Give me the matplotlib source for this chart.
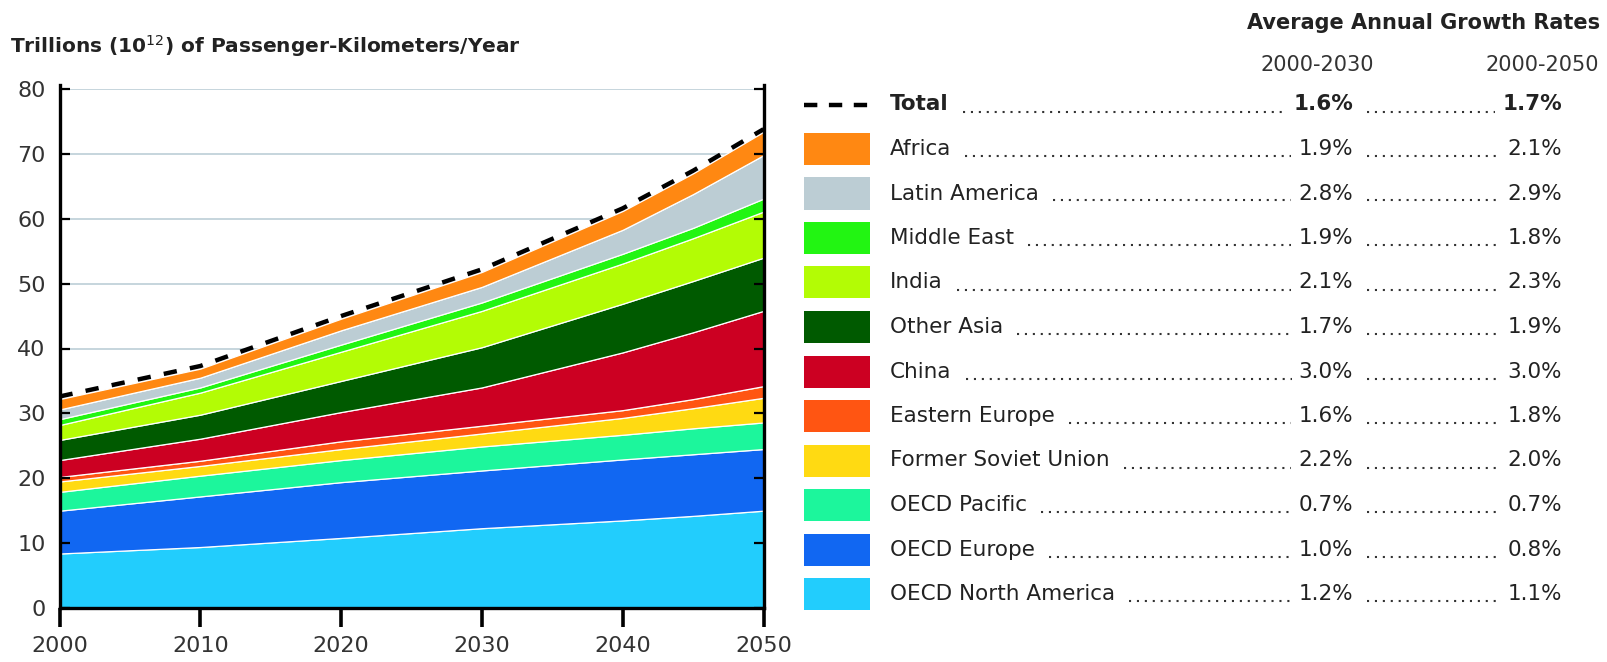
import matplotlib
matplotlib.use("Agg")
import matplotlib.pyplot as plt
from matplotlib.patches import Rectangle
from matplotlib.lines import Line2D
import numpy as np

# -------- Data --------
years = [2000, 2010, 2020, 2030, 2040, 2045, 2050]

# layer thickness, trillions of passenger-km/year (stack order: bottom -> top)
oecd_north_america = [8.4, 9.4, 10.8, 12.3, 13.5, 14.2, 15.0]
oecd_europe = [6.6, 7.8, 8.6, 8.9, 9.4, 9.5, 9.5]
oecd_pacific = [2.9, 3.2, 3.4, 3.7, 3.8, 4.0, 4.1]
former_soviet_union = [1.6, 1.5, 1.7, 2.0, 2.6, 3.1, 3.8]
eastern_europe = [0.7, 0.8, 1.2, 1.2, 1.2, 1.4, 1.8]
china = [2.6, 3.4, 4.5, 5.9, 8.9, 10.3, 11.6]
other_asia = [3.1, 3.7, 4.8, 6.2, 7.5, 7.9, 8.2]
india = [2.3, 3.4, 4.5, 5.6, 6.2, 6.6, 7.1]
middle_east = [0.9, 0.8, 1.1, 1.3, 1.5, 1.6, 2.0]
latin_america = [1.5, 1.5, 2.2, 2.4, 3.7, 5.2, 6.7]
africa = [1.6, 1.4, 1.8, 2.3, 2.9, 3.2, 3.6]

# legend rows, top -> bottom (first row is the total)
legend_labels = ["Total", "Africa", "Latin America", "Middle East", "India",
                 "Other Asia", "China", "Eastern Europe", "Former Soviet Union",
                 "OECD Pacific", "OECD Europe", "OECD North America"]
rates_2030 = ["1.6%", "1.9%", "2.8%", "1.9%", "2.1%", "1.7%", "3.0%", "1.6%",
              "2.2%", "0.7%", "1.0%", "1.2%"]
rates_2050 = ["1.7%", "2.1%", "2.9%", "1.8%", "2.3%", "1.9%", "3.0%", "1.8%",
              "2.0%", "0.7%", "0.8%", "1.1%"]

colors = {
    "Africa": "#ff8812",
    "Latin America": "#bccdd4",
    "Middle East": "#22f512",
    "India": "#b3fc05",
    "Other Asia": "#005a00",
    "China": "#cc0022",
    "Eastern Europe": "#ff5512",
    "Former Soviet Union": "#ffda12",
    "OECD Pacific": "#1cf69c",
    "OECD Europe": "#1167f2",
    "OECD North America": "#22cdfd",
}

stack = [oecd_north_america, oecd_europe, oecd_pacific, former_soviet_union,
         eastern_europe, china, other_asia, india, middle_east,
         latin_america, africa]
stack_names = ["OECD North America", "OECD Europe", "OECD Pacific",
               "Former Soviet Union", "Eastern Europe", "China", "Other Asia",
               "India", "Middle East", "Latin America", "Africa"]
total = np.sum(np.array(stack), axis=0)

# -------- Figure --------
W, H = 1607, 662
fig = plt.figure(figsize=(W / 100, H / 100), dpi=100)
plt.rcParams['font.family'] = ['DejaVu Sans']

def fx(x):
    return x / W

def fy(y):
    return 1 - y / H

ax = fig.add_axes([fx(59.5), fy(608), (763.5 - 59.5) / W, (608 - 89) / H])
ax.set_xlim(2000, 2050)
ax.set_ylim(0, 80)

for v in range(10, 90, 10):
    ax.axhline(v, color='#c6d5dd', lw=1.4, zorder=0)

ax.stackplot(years, stack, colors=[colors[n] for n in stack_names],
             edgecolor='white', linewidth=0.9, zorder=1)
ax.plot(years, total + 0.4, color='black', lw=3.2, dashes=(3.0, 3.0), zorder=5,
        clip_on=False)

for side in ['left', 'right', 'bottom']:
    ax.spines[side].set_linewidth(2.4)
    ax.spines[side].set_color('black')
ax.spines['top'].set_visible(False)
ax.spines['left'].set_bounds(0, 80.6)
ax.spines['right'].set_bounds(0, 80.6)

ax.set_xticks(range(2000, 2051, 10))
ax.set_yticks(range(0, 81, 10))
ax.tick_params(axis='x', direction='out', length=14, width=2.6,
               labelsize=16, labelcolor='#333333', pad=6)
ax.tick_params(axis='y', direction='in', length=7, width=1.6, right=True,
               labelsize=16, labelcolor='#333333', pad=10)

fig.text(fx(10), fy(46), r'Trillions (10$^{12}$) of Passenger-Kilometers/Year',
         fontsize=14.5, fontweight='bold', color='#222222', va='center')

# -------- Growth-rate legend --------
fig.text(fx(1600), fy(23), 'Average Annual Growth Rates', fontsize=15,
         fontweight='bold', color='#222222', ha='right', va='center')
fig.text(fx(1317), fy(65), '2000-2030', fontsize=15, color='#333333',
         ha='center', va='center')
fig.text(fx(1542), fy(65), '2000-2050', fontsize=15, color='#333333',
         ha='center', va='center')

row0, step = 104.5, 44.5
labels, p1s, p2s = [], [], []
for i, name in enumerate(legend_labels):
    y = row0 + i * step
    if name == "Total":
        fig.add_artist(Line2D([fx(804), fx(870)], [fy(y), fy(y)], color='black',
                              lw=3.2, dashes=(3.0, 2.6), transform=fig.transFigure))
    else:
        fig.add_artist(Rectangle((fx(804), fy(y + 16)), 66 / W, 32 / H,
                                 facecolor=colors[name], edgecolor='none',
                                 transform=fig.transFigure))
    wt = 'bold' if name == "Total" else 'normal'
    labels.append(fig.text(fx(890), fy(y), name, fontsize=15.5, fontweight=wt,
                           color='#222222', va='center'))
    p1s.append(fig.text(fx(1353), fy(y), rates_2030[i], fontsize=15.5,
                        fontweight=wt, color='#222222', ha='right', va='center'))
    p2s.append(fig.text(fx(1562), fy(y), rates_2050[i], fontsize=15.5,
                        fontweight=wt, color='#222222', ha='right', va='center'))

fig.canvas.draw()
r = fig.canvas.get_renderer()
for i in range(len(legend_labels)):
    y = row0 + i * step + 7
    b0 = labels[i].get_window_extent(r)
    b1 = p1s[i].get_window_extent(r)
    b2 = p2s[i].get_window_extent(r)
    for xa, xb in [(b0.x1 + 14, b1.x0 - 7), (b1.x1 + 14, b2.x0 - 7)]:
        fig.add_artist(Line2D([fx(xa), fx(xb)], [fy(y), fy(y)], color='#333333',
                              lw=1.5, linestyle=(0, (1, 2.8)),
                              transform=fig.transFigure))

fig.savefig("out.png", dpi=100)
